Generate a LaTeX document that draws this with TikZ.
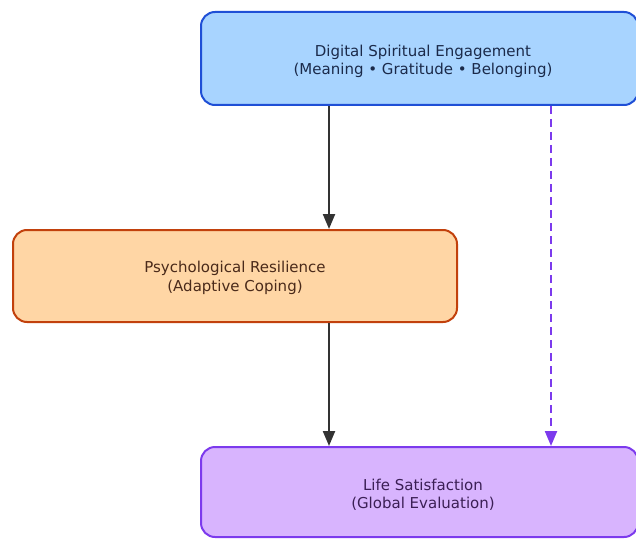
\documentclass[tikz,border=0pt]{standalone}
\usepackage{fontspec}
\setmainfont{DejaVu Sans}
\usetikzlibrary{arrows.meta}
\definecolor{bluefill}{HTML}{A8D4FF}
\definecolor{blueline}{HTML}{1F4FD6}
\definecolor{bluetext}{HTML}{1B2A4A}
\definecolor{orfill}{HTML}{FFD6A5}
\definecolor{orline}{HTML}{C2410C}
\definecolor{ortext}{HTML}{4A2A1A}
\definecolor{pufill}{HTML}{D8B4FE}
\definecolor{puline}{HTML}{7C3AED}
\definecolor{putext}{HTML}{3B1F55}
\definecolor{arrowgray}{HTML}{333333}
\tikzset{
  box/.style={rounded corners=14pt, line width=2pt},
  label/.style={align=center, font=\fontsize{15pt}{18.5pt}\selectfont, inner sep=0pt},
  solidarrow/.style={draw=arrowgray, line width=2.2pt, -{Triangle[length=15pt,width=12pt]}},
  dasharrow/.style={draw=puline, line width=2.2pt, dash pattern=on 8pt off 5pt, -{Triangle[length=15pt,width=12pt]}}
}
\begin{document}
\begin{tikzpicture}[x=1pt,y=1pt]
\useasboundingbox (0,0) rectangle (636,539);
% top box
\draw[box, fill=bluefill, draw=blueline] (201,434) rectangle (638,527);
\node[label, text=bluetext] (top) at (423,477.5) {Digital Spiritual Engagement\\(Meaning • Gratitude • Belonging)};
% middle box
\draw[box, fill=orfill, draw=orline] (13,217) rectangle (457,309);
\node[label, text=ortext] (mid) at (235,261) {Psychological Resilience\\(Adaptive Coping)};
% bottom box
\draw[box, fill=pufill, draw=puline] (201,2) rectangle (638,92);
\node[label, text=putext] (bot) at (423,44) {Life Satisfaction\\(Global Evaluation)};
% connectors
\coordinate (a1) at (329,433);
\coordinate (a2) at (329,310);
\coordinate (b1) at (329,216);
\coordinate (b2) at (329,93);
\coordinate (c1) at (551,433);
\coordinate (c2) at (551,93);
\draw[solidarrow] (a1) -- (a2);
\draw[solidarrow] (b1) -- (b2);
\draw[dasharrow] (c1) -- (c2);
\end{tikzpicture}
\end{document}
